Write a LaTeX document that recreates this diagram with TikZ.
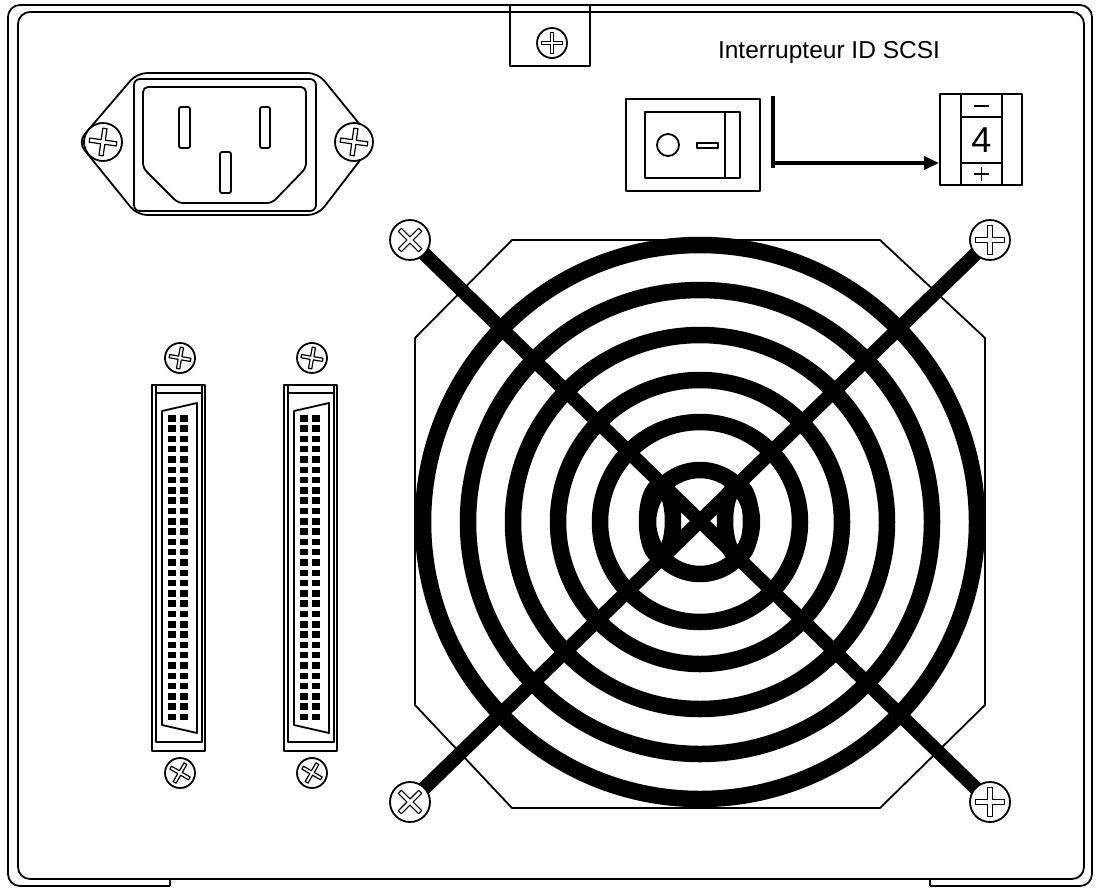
\documentclass[tikz,border=0pt]{standalone}
\usepackage{fontspec}
\setmainfont{Liberation Sans}
\usetikzlibrary{arrows.meta}
\begin{document}
\begin{tikzpicture}[x=1pt,y=-1pt,line join=round,
  ln/.style={line width=1.8pt},
  ring/.style={line width=16.5pt},
  bar/.style={line width=14pt},
  pics/screw/.style args={#1/#2}{code={
    \draw[ln,fill=white] (0,0) circle (#1);
    \begin{scope}[rotate=#2]
    \pgfmathsetmacro\a{0.72*#1}\pgfmathsetmacro\w{0.11*#1}
    \draw[line width=1.2pt] (-\a,-\w)--(-\w,-\w)--(-\w,-\a)--(\w,-\a)--(\w,-\w)--(\a,-\w)--(\a,\w)--(\w,\w)--(\w,\a)--(-\w,\a)--(-\w,\w)--(-\a,\w)--cycle;
    \end{scope}}}]
\useasboundingbox (0,0) rectangle (1098,887);
% case
\draw[ln,rounded corners=12] (170,886) -- (8,886) -- (8,5) -- (1092,5) -- (1092,886) -- (930,886);
\draw[ln] (170,879)--(170,886) (930,879)--(930,886);
\draw[ln,rounded corners=12] (18,12) rectangle (1084,879);
% top screw box
\draw[ln] (510,5) rectangle (590,66);
\pic at (552,43) {screw=15/0};
% power inlet
\draw[ln,rounded corners=10] (78,142) -- (137,73) -- (318,73) -- (374,142) -- (318,215) -- (137,215) -- cycle;
\draw[ln,rounded corners=6] (134,79) rectangle (316,211);
\draw[ln,rounded corners=5] (143,87) -- (306,87) -- (306,168) -- (272,203) -- (178,203) -- (143,168) -- cycle;
\draw[ln,rounded corners=2] (179,107) rectangle (190,148);
\draw[ln,rounded corners=2] (260,107) rectangle (270,148);
\draw[ln,rounded corners=2] (220,152) rectangle (231,193);
\pic at (103,142) {screw=19/-8};
\pic at (354,142) {screw=19/-8};
% switch
\draw[ln] (626,99) rectangle (760,191);
\draw[ln] (645,112) rectangle (740,178);
\draw[ln] (725,112)--(725,178);
\draw[ln] (668,145) circle (11);
\draw[ln] (697,143) rectangle (718,148);
\node[font=\fontsize{24.5}{28}\selectfont] (lbl) at (829,52) {Interrupteur ID SCSI};
\coordinate (ctop) at (773,96);
\coordinate (cbot) at (773,168);
\draw[line width=4pt] (ctop)--(cbot);
% ID box
\node[draw,ln,minimum width=82pt,minimum height=91pt,inner sep=0] (idb) at (981,139.5) {};
\draw[ln] (961,94)--(961,185) (1002,94)--(1002,185) (961,117)--(1002,117) (961,163)--(1002,163);
\draw[line width=1.2pt] (974,106)--(989,106) (974,174)--(989,174) (981.5,167)--(981.5,181);
\node[font=\fontsize{36}{38}\selectfont] at (981.5,140) {4};
\draw[line width=3.5pt,-{Triangle[length=15pt,width=13pt]}] (773,163)--(idb.west|-0,163);
% SCSI connectors
\foreach \dx in {0,132}{
 \begin{scope}[xshift=\dx]
  \pic at (180,358) {screw=15/-10};
  \pic at (180,773) {screw=15/-30};
  \draw[ln] (152,385) rectangle (205,751);
  \draw[ln] (156,385)--(156,742)--(202,742)--(202,385);
  \draw[ln] (156,393)--(202,393);
  \draw[ln] (162,411)--(197,403)--(197,733)--(162,725)--cycle;
  \foreach \i in {0,...,29}{
    \fill (168,{415+10.3*\i}) rectangle +(8,6.5);
    \fill (180,{415+10.3*\i}) rectangle +(8,6.5);
  }
 \end{scope}}
% fan
\draw[ln] (512,240) -- (880,240) -- (985,338) -- (985,705) -- (880,808) -- (512,808) -- (415,705) -- (415,338) -- cycle;
\coordinate (fc) at (700,522);
\foreach \r in {277,232,187,142,100,52}{\draw[ring] (fc) circle (\r);}
\draw[ring] (660,521) ellipse (13 and 35);
\draw[ring] (738,521) ellipse (13 and 35);
\coordinate (s1) at (410,240);
\coordinate (s2) at (990,240);
\coordinate (s3) at (410,802);
\coordinate (s4) at (990,802);
\draw[bar] (s1)--(s4);
\draw[bar] (s2)--(s3);
\pic at (s1) {screw=20/45};
\pic at (s2) {screw=20/0};
\pic at (s3) {screw=20/45};
\pic at (s4) {screw=20/0};
\end{tikzpicture}
\end{document}
